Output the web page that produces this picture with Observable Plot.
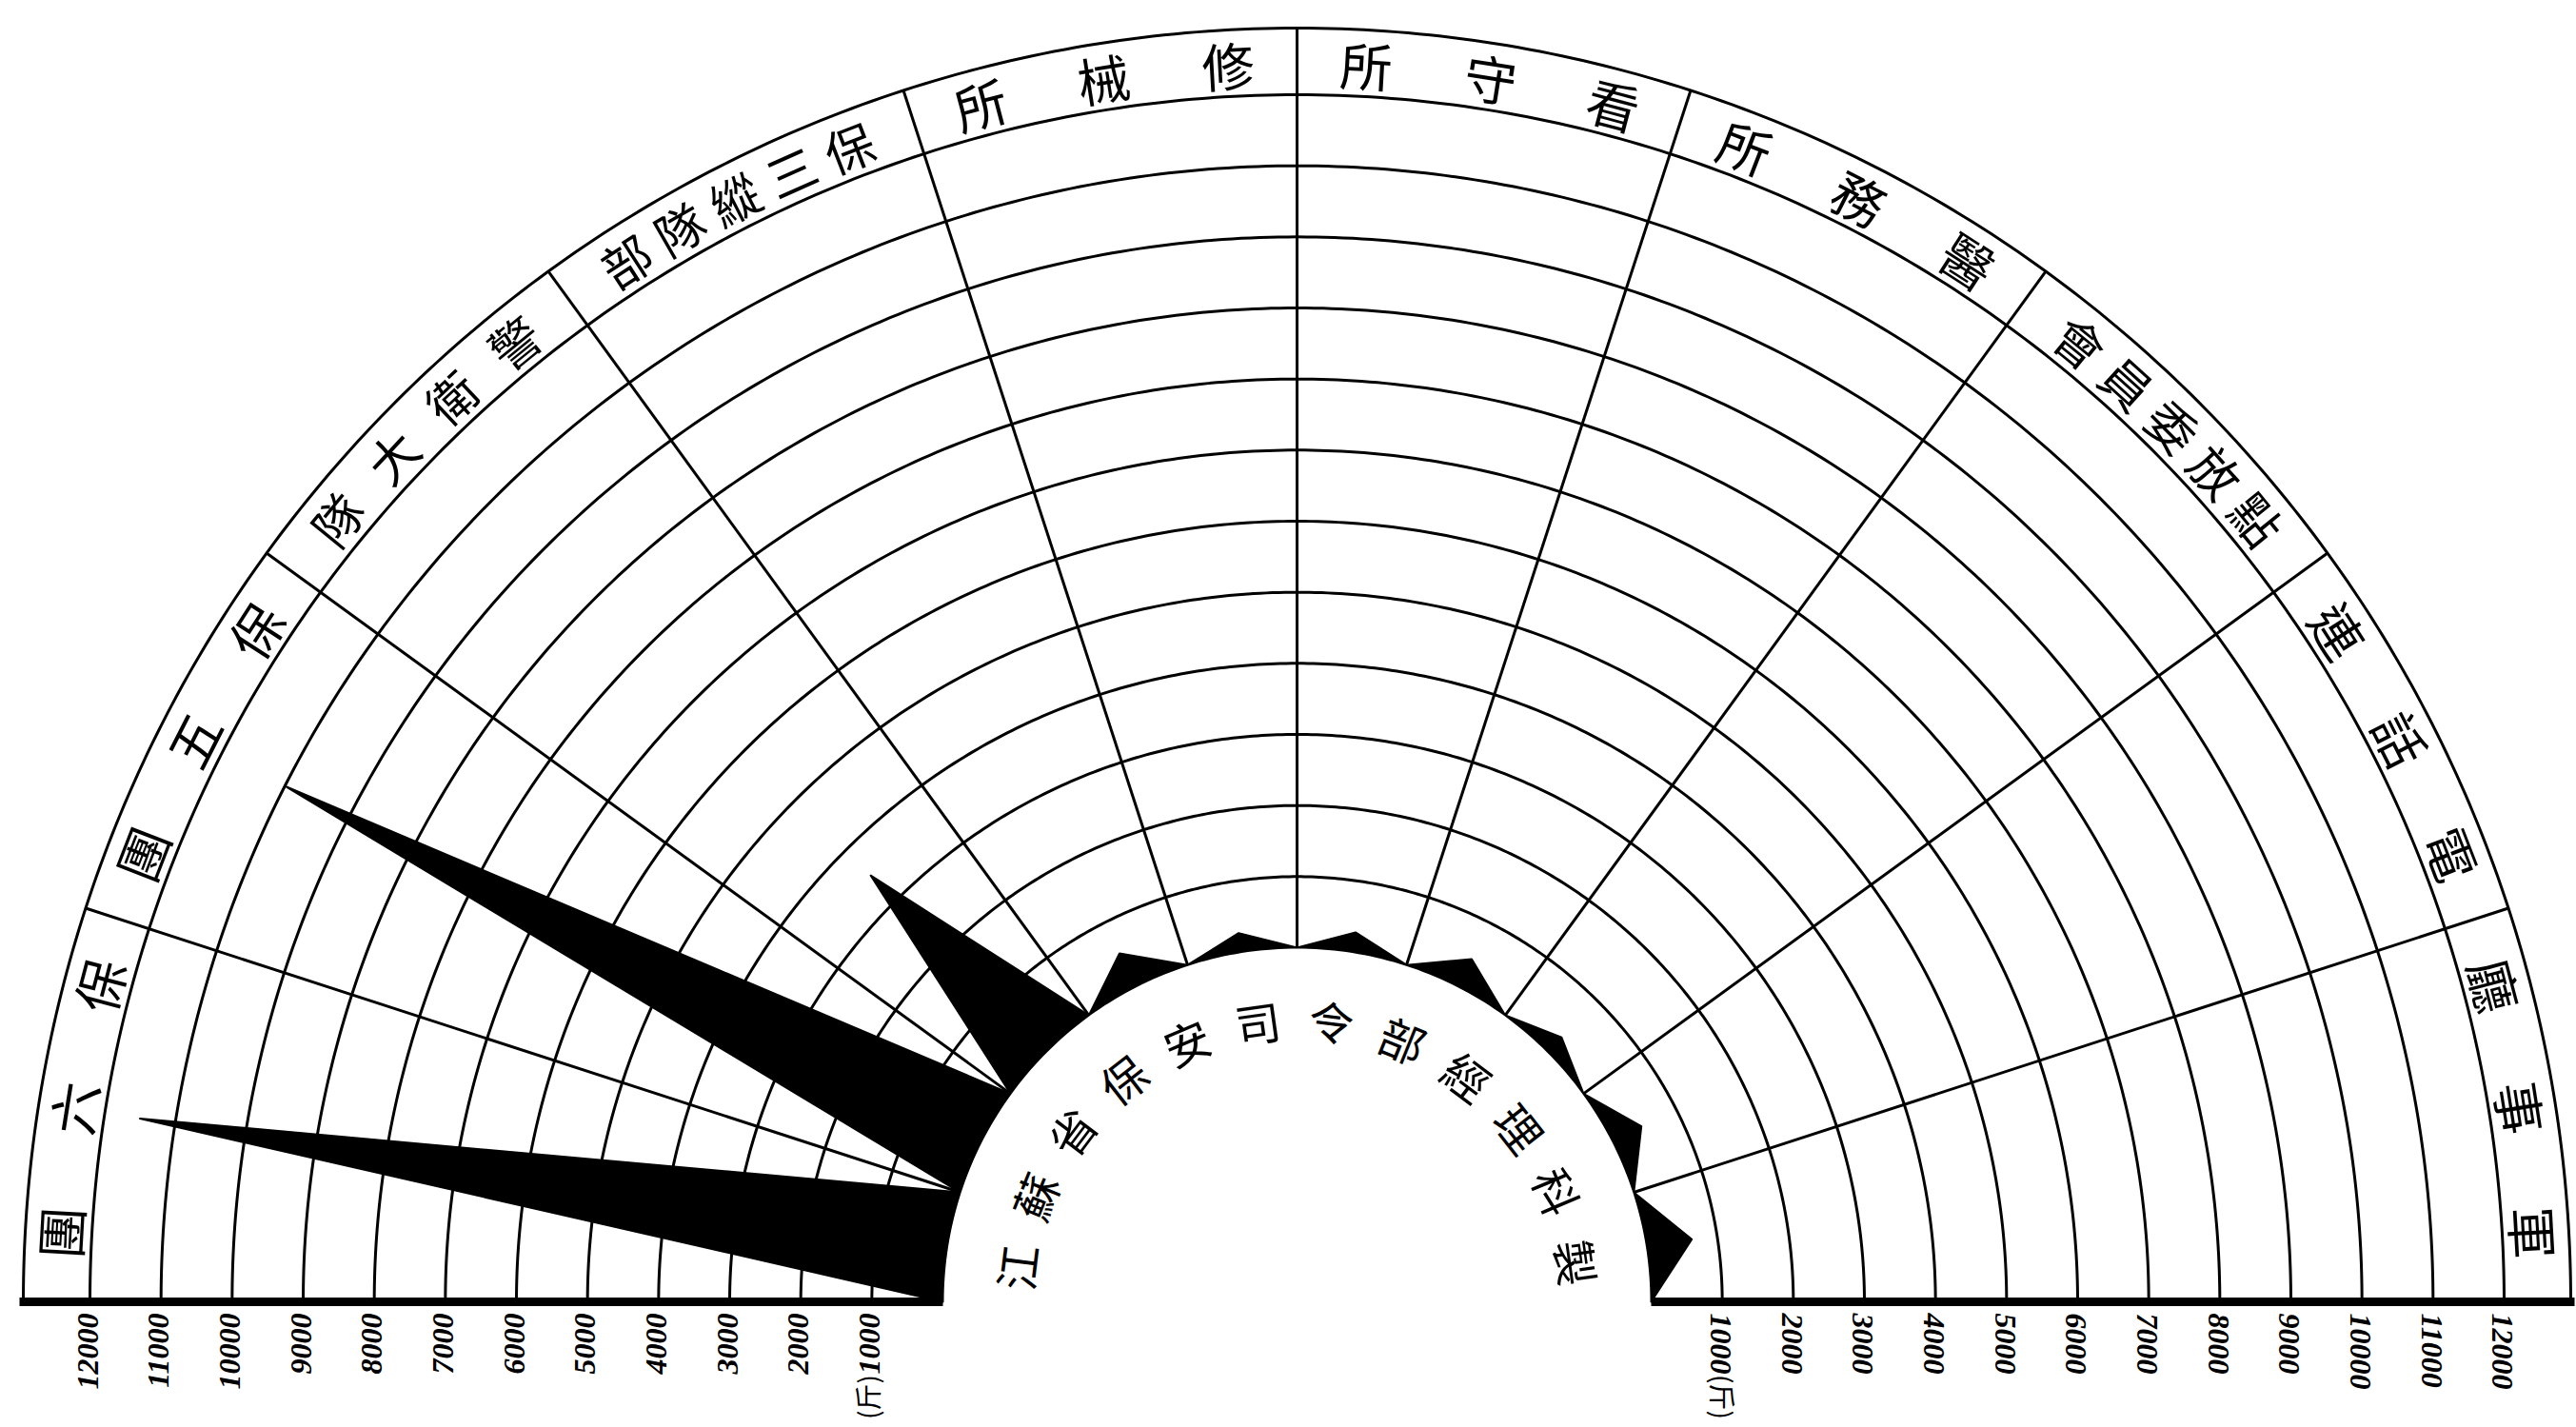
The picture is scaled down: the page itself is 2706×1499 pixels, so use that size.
<!DOCTYPE html>
<html>
<head>
<meta charset="utf-8">
<script src="https://cdn.jsdelivr.net/npm/d3@7"></script>
<script src="https://cdn.jsdelivr.net/npm/@observablehq/plot@0.6"></script>
<style>
  html, body { margin: 0; padding: 0; background: #ffffff; overflow: hidden; }
  #chart svg { display: block; }
</style>
</head>
<body>
<div id="chart"></div>
<script>
// ---------- data ----------
const categories = ["保六團", "保五團", "警衛大隊", "保三縱隊部", "修械所", "看守所", "醫務所", "點放委員會", "電話連", "軍事廳"];
const values = [11500, 11000, 3500, 520, 270, 280, 430, 280, 455, 640]; // 斤
const ringTicks = [1000, 2000, 3000, 4000, 5000, 6000, 7000, 8000, 9000, 10000, 11000, 12000];
const tickLabels = ["1000", "2000", "3000", "4000", "5000", "6000", "7000", "8000", "9000", "10000", "11000", "12000"];
const unitLabel = "(斤)";
const centerTitle = "江蘇省保安司令部經理科製";

// ---------- layout (pixels) ----------
const W = 2706, H = 1499;
const CX = 1362, CY = 1367;      // centre of the half-disc
const R0 = 372;                  // inner hole radius (value 0)
const R12 = 1268;                // radius of 12000 ring
const ROUT = 1338;               // outer edge of label band
const LABEL_R = 1296;
const TITLE_R = 292;
const SECTOR = 180 / categories.length;
const LABEL_SPAN = 11.6;

const radial = d3.scaleLinear().domain([0, 12000]).range([R0, R12]);
const rad = (deg) => deg * Math.PI / 180;
// angle measured from the left end of the baseline, clockwise over the top
const polar = (deg, r) => ({x: -r * Math.cos(rad(deg)), y: r * Math.sin(rad(deg))});

// black star-shaped area: dips at sector borders, peaks at sector middles
const shape = [];
categories.forEach((c, i) => {
  shape.push(polar(i * SECTOR, R0));
  shape.push(polar(i * SECTOR + SECTOR / 2, radial(values[i])));
});
shape.push(polar(180, R0));
for (let a = 180; a >= 0; a -= 1) shape.push(polar(a, R0));

// rings
const ringRadii = ringTicks.map(v => ({key: v, r: radial(v)})).concat([{key: "outer", r: ROUT}]);
const ringPts = [];
for (const ring of ringRadii) {
  for (let a = 0; a <= 180; a += 0.5) ringPts.push({ring: ring.key, ...polar(a, ring.r)});
}

// spokes between sectors
const spokes = d3.range(1, categories.length).map(i => {
  const a = polar(i * SECTOR, R0), b = polar(i * SECTOR, ROUT);
  return {x1: a.x, y1: a.y, x2: b.x, y2: b.y};
});

// baseline
const baseline = [
  {x1: -ROUT - 4, x2: -R0, y1: 0, y2: 0},
  {x1: R0, x2: ROUT + 4, y1: 0, y2: 0}
];

// category labels along the outer band (written right-to-left)
const labelChars = [];
categories.forEach((name, i) => {
  const chars = Array.from(name);
  const mid = i * SECTOR + SECTOR / 2;
  const step = LABEL_SPAN / (chars.length - 1);
  chars.forEach((ch, k) => {
    const ang = mid + LABEL_SPAN / 2 - k * step;
    labelChars.push({ch, n: chars.length, rot: ang - 90, ...polar(ang, LABEL_R)});
  });
});

// centre title along the hole
const titleChars = Array.from(centerTitle).map((ch, k) => {
  const ang = 7 + k * 15;
  return {ch, rot: ang - 90, ...polar(ang, TITLE_R)};
});

// tick labels
const leftTicks = ringTicks.map((v, i) => ({x: -radial(v) - 2, y: -12, t: tickLabels[i]}));
const rightTicks = ringTicks.map((v, i) => ({x: radial(v) - 2, y: -12, t: tickLabels[i]}));
const units = [
  {x: -radial(ringTicks[0]) - 2, y: -100, t: unitLabel, rot: -90},
  {x: radial(ringTicks[0]) - 2, y: -100, t: unitLabel, rot: 90}
];

const cjk = "'Noto Sans CJK TC', 'Noto Sans CJK SC', sans-serif";
const numFont = "'Liberation Serif', 'DejaVu Serif', serif";

const chart = Plot.plot({
  width: W,
  height: H,
  margin: 0,
  x: {domain: [-CX, W - CX], axis: null},
  y: {domain: [CY - H, CY], axis: null},
  style: {background: "#ffffff", color: "#000"},
  marks: [
    Plot.line(ringPts, {x: "x", y: "y", z: "ring", stroke: "#000", strokeWidth: 3}),
    Plot.link(spokes, {x1: "x1", y1: "y1", x2: "x2", y2: "y2", stroke: "#000", strokeWidth: 3}),
    Plot.line(shape, {x: "x", y: "y", fill: "#000", stroke: "#000", strokeWidth: 2, curve: "linear-closed"}),
    Plot.link(baseline, {x1: "x1", y1: "y1", x2: "x2", y2: "y2", stroke: "#000", strokeWidth: 9}),
    Plot.text(labelChars.filter(d => d.n <= 3), {x: "x", y: "y", text: "ch", rotate: "rot", fontSize: 55, fontFamily: cjk, fill: "#000"}),
    Plot.text(labelChars.filter(d => d.n > 3), {x: "x", y: "y", text: "ch", rotate: "rot", fontSize: 52, fontFamily: cjk, fill: "#000"}),
    Plot.text(titleChars, {x: "x", y: "y", text: "ch", rotate: "rot", fontSize: 48, fontFamily: cjk, fill: "#000"}),
    Plot.text(leftTicks, {x: "x", y: "y", text: "t", rotate: -90, textAnchor: "end", fontSize: 32, fontWeight: "bold", fontStyle: "italic", fontFamily: numFont, fill: "#000"}),
    Plot.text(rightTicks, {x: "x", y: "y", text: "t", rotate: 90, textAnchor: "start", fontSize: 32, fontWeight: "bold", fontStyle: "italic", fontFamily: numFont, fill: "#000"}),
    Plot.text(units, {x: "x", y: "y", text: "t", rotate: "rot", fontSize: 28, fontFamily: cjk, fill: "#000"})
  ]
});
document.getElementById("chart").appendChild(chart);
</script>
</body>
</html>
